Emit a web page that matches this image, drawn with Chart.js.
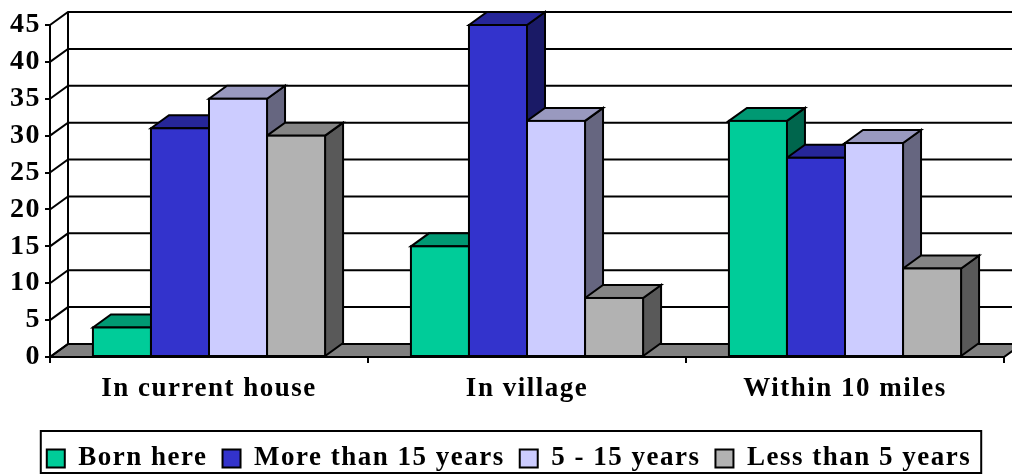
<!DOCTYPE html>
<html>
<head>
<meta charset="utf-8">
<style>
  html, body { margin: 0; padding: 0; background: #fff; }
  canvas { display: block; }
</style>
<script src="https://cdn.jsdelivr.net/npm/chart.js@4"></script>
</head>
<body>
<canvas id="chart" width="1012" height="476"></canvas>
<script>
const categories = ['In current house', 'In village', 'Within 10 miles'];
const seriesNames = ['Born here', 'More than 15 years', '5 - 15 years', 'Less than 5 years'];
const bornHere = [4, 15, 32];
const moreThan15 = [31, 45, 27];
const fiveTo15 = [35, 32, 29];
const lessThan5 = [30, 8, 12];
const yMax = 45;
const yStep = 5;

// cores: frente, topo, lateral
const frontColors = ['#00CC99', '#3333CC', '#CCCCFF', '#B2B2B2'];
const topColors = ['#009973', '#262699', '#9999BF', '#858585'];
const sideColors = ['#00664D', '#1A1A66', '#666680', '#595959'];
const floorColor = '#808080';

// deslocamento da profundidade 3D
const depthX = 18;
const depthY = 13;
const legendShift = 5;
const fontFamily = '"Liberation Serif", "Times New Roman", serif';

function poly(ctx, pts, fill) {
    ctx.beginPath();
    ctx.moveTo(pts[0][0], pts[0][1]);
    pts.slice(1).forEach(p => ctx.lineTo(p[0], p[1]));
    ctx.closePath();
    if (fill) {
        ctx.fillStyle = fill;
        ctx.fill();
    }
    ctx.stroke();
}

const spacing = {
    id: 'spacing',
    beforeUpdate(chart) { chart.ctx.letterSpacing = '1.5px'; },
    beforeDraw(chart) { chart.ctx.letterSpacing = '1.5px'; },
    afterLayout(chart) {
        // a legenda do original não fica centrada no canvas
        chart.legend.left += legendShift;
        chart.legend.right += legendShift;
    }
};

// parede do fundo, chão e grades
const walls = {
    id: 'walls',
    beforeDatasetsDraw(chart) {
        const ctx = chart.ctx;
        const area = chart.chartArea;
        const y = chart.scales.y;
        ctx.save();
        ctx.strokeStyle = '#000';
        ctx.lineWidth = 2;
        poly(ctx, [[area.left, area.bottom], [area.left + depthX, area.bottom - depthY],
            [area.right + depthX, area.bottom - depthY], [area.right, area.bottom]], floorColor);
        y.ticks.forEach(t => {
            const py = y.getPixelForValue(t.value);
            ctx.beginPath();
            ctx.moveTo(area.left, py);
            ctx.lineTo(area.left + depthX, py - depthY);
            ctx.lineTo(area.right + depthX, py - depthY);
            ctx.stroke();
        });
        ctx.beginPath();
        ctx.moveTo(area.left + depthX, area.bottom - depthY);
        ctx.lineTo(area.left + depthX, y.getPixelForValue(yMax) - depthY);
        ctx.stroke();

        // laterais e topos de cada barra
        chart.data.datasets.forEach((ds, i) => {
            chart.getDatasetMeta(i).data.forEach(bar => {
                const l = bar.x - bar.width / 2;
                const r = bar.x + bar.width / 2;
                poly(ctx, [[r, bar.y], [r + depthX, bar.y - depthY],
                    [r + depthX, bar.base - depthY], [r, bar.base]], sideColors[i]);
                poly(ctx, [[l, bar.y], [l + depthX, bar.y - depthY],
                    [r + depthX, bar.y - depthY], [r, bar.y]], topColors[i]);
            });
        });
        ctx.restore();
    },
    afterDatasetsDraw(chart) {
        const ctx = chart.ctx;
        ctx.save();
        ctx.strokeStyle = '#000';
        ctx.lineWidth = 2;
        chart.data.datasets.forEach((ds, i) => {
            chart.getDatasetMeta(i).data.forEach(bar => {
                ctx.strokeRect(bar.x - bar.width / 2, bar.y, bar.width, bar.base - bar.y);
            });
        });
        ctx.restore();
    },
    afterDraw(chart) {
        // moldura da legenda
        const lg = chart.legend;
        const ctx = chart.ctx;
        const first = lg.legendHitBoxes[0];
        const last = lg.legendHitBoxes[lg.legendHitBoxes.length - 1];
        ctx.save();
        ctx.strokeStyle = '#000';
        ctx.lineWidth = 2;
        ctx.strokeRect(first.left + legendShift - 11, 431, last.left + last.width - first.left + 16, 42);
        ctx.restore();
    }
};

function makeDataset(i, values) {
    return {
        label: seriesNames[i],
        data: values,
        backgroundColor: frontColors[i],
        borderWidth: 0,
        categoryPercentage: 0.73,
        barPercentage: 1
    };
}

new Chart(document.getElementById('chart'), {
    type: 'bar',
    data: {
        labels: categories,
        datasets: [
            makeDataset(0, bornHere),
            makeDataset(1, moreThan15),
            makeDataset(2, fiveTo15),
            makeDataset(3, lessThan5)
        ]
    },
    plugins: [spacing, walls],
    options: {
        responsive: false,
        animation: false,
        layout: { padding: { left: 4, right: 8, top: 25, bottom: -6 } },
        plugins: {
            tooltip: { enabled: false },
            legend: {
                position: 'bottom',
                labels: {
                    boxWidth: 18,
                    boxHeight: 18,
                    padding: 15,
                    color: '#000',
                    font: { family: fontFamily, size: 27, weight: 'bold' },
                    generateLabels(chart) {
                        return seriesNames.map((name, i) => ({
                            text: name,
                            fillStyle: frontColors[i],
                            strokeStyle: '#000',
                            lineWidth: 2,
                            datasetIndex: i
                        }));
                    }
                }
            }
        },
        scales: {
            x: {
                afterFit(scale) { scale.height = 73; },
                grid: { drawOnChartArea: false, color: '#000', lineWidth: 2, tickLength: 6 },
                border: { color: '#000', width: 2 },
                ticks: {
                    color: '#000',
                    padding: 10,
                    maxRotation: 0,
                    font: { family: fontFamily, size: 27, weight: 'bold' }
                }
            },
            y: {
                min: 0,
                max: yMax,
                afterFit(scale) { scale.width = 46; },
                grid: { drawOnChartArea: false, color: '#000', lineWidth: 2, tickLength: 5 },
                border: { color: '#000', width: 2 },
                ticks: {
                    stepSize: yStep,
                    autoSkip: false,
                    color: '#000',
                    padding: 4,
                    font: { family: fontFamily, size: 28, weight: 'bold' }
                }
            }
        }
    }
});
</script>
</body>
</html>
